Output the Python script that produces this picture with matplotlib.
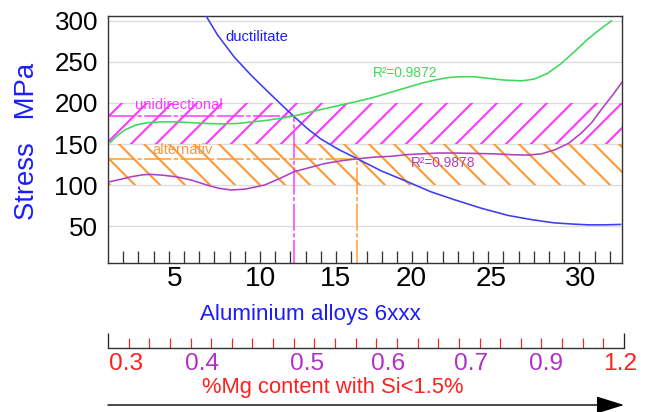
"""Stress vs aluminium alloy 6xxx chart with %Mg scale."""
import matplotlib

matplotlib.use("Agg")  # headless
import matplotlib.pyplot as plt

DPI = 150  # hatch cell = DPI px -> 25 px hatch spacing like the original


def pt(px):
    """pixels -> points at DPI."""
    return px * 72 / DPI


# ---- data -------------------------------------------------------------
blue_x = [6.0, 6.45, 7.2, 8.3, 9.4, 10.5, 11.4, 12.2, 13.1, 14.0, 15.2, 16.4,
          18.0, 19.7, 21.2, 22.8, 24.5, 26.3, 27.8, 29.3, 30.5, 31.6, 32.6, 33.7]
blue_y = [320, 306, 283, 256, 234, 214, 198, 184, 169, 156, 143, 132,
          117, 104, 92, 82, 72, 63, 58, 54, 52.5, 51.5, 51.5, 52]

green_x = [0.15, 0.6, 1.1, 1.8, 2.6, 3.5, 4.5, 5.5, 6.5, 7.5, 8.5, 9.5, 10.5,
           11.4, 12.2, 13.1, 14.0, 15.2, 16.4, 17.5, 18.4, 19.5, 20.6, 21.5,
           22.4, 23.2, 24.1, 25.0, 26.0, 27.2, 28.0, 28.9, 29.8, 30.7, 31.5,
           32.3, 33.1]
green_y = [152, 160, 167, 173, 176, 177, 177, 176, 175, 174.5, 175, 177, 179,
           181.5, 184, 188, 192, 197, 202, 207, 212, 218, 224, 228,
           231, 232, 232, 230, 228, 227, 229, 236, 248, 263, 277,
           289, 300]

purple_x = [0.1, 0.6, 1.5, 2.3, 2.8, 3.6, 4.5, 5.5, 6.5, 7.3, 8.1, 9.0, 10.3,
            11.3, 12.2, 13.2, 14.2, 15.3, 16.4, 17.5, 18.6, 19.6, 20.6, 21.7,
            22.8, 24.1, 25.4, 26.5, 27.6, 28.5, 29.4, 30.3, 31.1, 31.8, 32.4,
            33.2, 33.9]
purple_y = [104, 106, 110, 112.5, 113, 112, 110, 106, 100, 96, 94, 95, 100,
            108, 116, 121, 126, 129.5, 132, 134, 135, 137, 138, 139,
            139, 138.5, 138, 137, 136.5, 138, 143, 151, 163, 176, 191,
            210, 228]

uni_band = (150, 200)       # unidirectional stress range
alt_band = (100, 150)       # alternating stress range
uni_cross = (12.2, 184)     # ductility curve meets unidirectional level
alt_cross = (16.4, 132)     # ductility curve meets alternating level

y_ticks = [50, 100, 150, 200, 250, 300]
x_labels = ["5", "10", "15", "20", "25", "30"]
mg_labels = ["0.3", "0.4", "0.5", "0.6", "0.7", "0.9", "1.2"]

# ---- style ------------------------------------------------------------
BLUE_TXT = "#1c1cff"
BLUE = "#3c3cf0"
GREEN = "#3ed85a"
PURPLE = "#b040c0"
MAGENTA = "#ff38ff"
ORANGE = "#ff9836"
RED = "#ff2020"
MG_PURPLE = "#b030c8"

x_label_pos = [4.4, 10.05, 14.95, 19.95, 25.2, 31.05]
mg_label_pos = [0.87, 4.55, 9.64, 13.57, 17.59, 21.22, 24.8]
mg_label_colors = [RED, MG_PURPLE, MG_PURPLE, MG_PURPLE, MG_PURPLE, MG_PURPLE, RED]

plt.rcParams["font.family"] = ["Liberation Sans", "DejaVu Sans"]
plt.rcParams["lines.scale_dashes"] = False
plt.rcParams["hatch.linewidth"] = 1.0

dash = (0, (13, 1.2, 2, 1.2))

fig = plt.figure(figsize=(650 / DPI, 412 / DPI), dpi=DPI)
ax = fig.add_axes([108 / 650, 1 - 263 / 412, 514 / 650, 247 / 412])
ax.set_xlim(0, 33.8)
ax.set_ylim(5, 306)

# hatched stress bands
ax.axhspan(*uni_band, facecolor="none", edgecolor=MAGENTA, hatch="//", linewidth=0, zorder=1)
ax.axhspan(*alt_band, facecolor="none", edgecolor=ORANGE, hatch="\\\\", linewidth=0, zorder=1)

# curves
lw = pt(1.6)
ax.plot(blue_x, blue_y, color=BLUE, lw=lw, zorder=3)
ax.plot(green_x, green_y, color=GREEN, lw=lw, zorder=3)
ax.plot(purple_x, purple_y, color=PURPLE, lw=lw, zorder=3)

# reading lines
ax.hlines(uni_cross[1], 0, uni_cross[0], color=MAGENTA, lw=pt(1.5), linestyle=dash, zorder=2)
ax.vlines(uni_cross[0], 0, uni_cross[1], color=MAGENTA, lw=pt(1.5), linestyle=dash, zorder=2)
ax.hlines(alt_cross[1], 0, alt_cross[0], color=ORANGE, lw=pt(1.5), linestyle=dash, zorder=2)
ax.vlines(alt_cross[0], 0, alt_cross[1], color=ORANGE, lw=pt(1.5), linestyle=dash, zorder=2)

# annotations
small = pt(14.8)
ax.text(7.7, 280, "ductilitate", color=BLUE_TXT, fontsize=small, va="center")
ax.text(1.8, 197.5, "unidirectional", color=MAGENTA, fontsize=small, va="center")
ax.text(2.9, 142.7, "alternativ", color=ORANGE, fontsize=small, va="center")
ax.text(17.4, 236.5, "R²=0.9872", color=GREEN, fontsize=pt(13.8), va="center")
ax.text(19.9, 127, "R²=0.9878", color=PURPLE, fontsize=pt(13.8), va="center")

# axes cosmetics
ax.set_yticks(y_ticks)
ax.grid(axis="y", color="#dcdcdc", lw=pt(1.3))
ax.set_axisbelow(True)
ax.xaxis.remove_overlapping_locs = False
ax.set_xticks(x_label_pos, x_labels)
ax.set_xticks(range(1, 34), minor=True)
ax.tick_params(axis="x", which="major", length=0, pad=pt(3.5), labelsize=pt(28))
ax.tick_params(axis="x", which="minor", direction="in", length=pt(12), width=pt(1.3), color="#333333")
ax.tick_params(axis="y", length=0, pad=pt(10), labelsize=pt(26))
for s in ax.spines.values():
    s.set_color("#333333")
    s.set_linewidth(pt(1.4))

ax.set_ylabel("Stress   MPa", color=BLUE_TXT, fontsize=pt(27.5), va="center")
ax.yaxis.set_label_coords(-0.158, 0.494)
ax.set_xlabel("Aluminium alloys 6xxx", color=BLUE_TXT, fontsize=pt(22.4), va="center")
ax.xaxis.set_label_coords(0.394, -0.2105)

# %Mg scale
ax2 = fig.add_axes([108 / 650, 1 - 348 / 412, 516 / 650, 0.001])
ax2.set_xlim(0, 25)
ax2.set_ylim(0, 1)
ax2.patch.set_visible(False)
for s in ("top", "left", "right"):
    ax2.spines[s].set_visible(False)
ax2.spines["bottom"].set_color("#333333")
ax2.spines["bottom"].set_linewidth(pt(1.4))
ax2.set_yticks([])
ax2.set_xticks([0, 25])
ax2.set_xticks(range(1, 25), minor=True)
ax2.tick_params(which="major", direction="in", length=pt(15), width=pt(1.3), color="#222222",
                labelbottom=False)
ax2.tick_params(which="minor", direction="in", length=pt(10), width=pt(1.2), color=RED)

for x, lab, c in zip(mg_label_pos, mg_labels, mg_label_colors):
    ax2.annotate(lab, xy=(x, 0), xycoords=("data", "axes fraction"), xytext=(0, -pt(16.5)),
                 textcoords="offset points", ha="center", va="center", color=c, fontsize=pt(24.5))

ax2.annotate("%Mg content with Si<1.5%", xy=(0.435, 0), xycoords="axes fraction",
             xytext=(0, -pt(39.5)), textcoords="offset points", ha="center", va="center",
             color=RED, fontsize=pt(22))

# direction arrow
ax2.annotate("", xy=(624, 412 - 405), xytext=(108, 412 - 405), xycoords="figure pixels",
             textcoords="figure pixels", annotation_clip=False,
             arrowprops=dict(arrowstyle=f"-|>,head_length={pt(24)},head_width={pt(7.5)}",
                             mutation_scale=1, color="black", lw=pt(1.4),
                             shrinkA=0, shrinkB=0))

fig.savefig("out.png", dpi=DPI)
plt.close(fig)
